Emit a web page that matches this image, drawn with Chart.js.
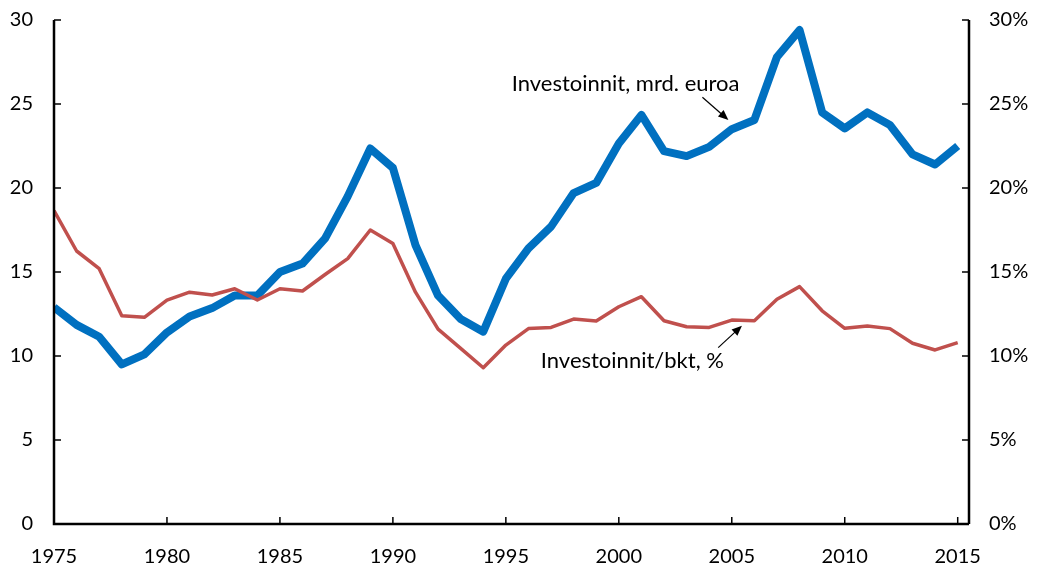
<!DOCTYPE html>
<html>
<head>
<meta charset="utf-8">
<script src="https://cdn.jsdelivr.net/npm/chart.js@4/dist/chart.umd.min.js"></script>
<style>
  html, body { margin: 0; padding: 0; background: #fff; }
  #wrap { width: 1037px; height: 566px; position: relative; }
</style>
</head>
<body>
<div id="wrap"><canvas id="chart"></canvas></div>
<script>
  // --- data ---
  const years = [1975, 1976, 1977, 1978, 1979, 1980, 1981, 1982, 1983, 1984,
                 1985, 1986, 1987, 1988, 1989, 1990, 1991, 1992, 1993, 1994,
                 1995, 1996, 1997, 1998, 1999, 2000, 2001, 2002, 2003, 2004,
                 2005, 2006, 2007, 2008, 2009, 2010, 2011, 2012, 2013, 2014, 2015];

  // Investoinnit, mrd. euroa (left axis)
  const investments = [12.9, 11.85, 11.15, 9.5, 10.1, 11.4, 12.35, 12.85, 13.6, 13.6,
                       15.0, 15.5, 17.0, 19.5, 22.35, 21.2, 16.6, 13.6, 12.2, 11.45,
                       14.6, 16.4, 17.7, 19.7, 20.3, 22.65, 24.35, 22.2, 21.9, 22.45,
                       23.5, 24.05, 27.8, 29.4, 24.5, 23.55, 24.5, 23.75, 22.0, 21.4, 22.5];

  // Investoinnit/bkt, % (right axis)
  const shareOfGdp = [18.65, 16.25, 15.2, 12.4, 12.3, 13.33, 13.8, 13.63, 14.0, 13.33,
                      14.0, 13.87, 14.85, 15.8, 17.5, 16.7, 13.8, 11.6, 10.45, 9.3,
                      10.65, 11.63, 11.7, 12.2, 12.08, 12.93, 13.53, 12.1, 11.74, 11.7,
                      12.14, 12.1, 13.38, 14.13, 12.69, 11.65, 11.79, 11.63, 10.76, 10.36, 10.8];

  const yTicks = [0, 5, 10, 15, 20, 25, 30];
  const xTicks = [1975, 1980, 1985, 1990, 1995, 2000, 2005, 2010, 2015];

  const blue = '#0070C0';
  const red = '#C0504D';
  const font = { family: 'Lato', size: 20 };

  // annotations in data coordinates
  const notes = [
    { text: 'Investoinnit, mrd. euroa', x: 2000.3, y: 26.2, from: [2003.7, 25.4], to: [2004.85, 24.05] },
    { text: 'Investoinnit/bkt, %', x: 2000.6, y: 9.7, from: [2004.4, 10.5], to: [2005.45, 11.8] }
  ];

  // axis lines, inward tick marks and the two labels with arrows
  const frame = {
    id: 'frame',
    afterDatasetsDraw(chart) {
      const { ctx, chartArea: a, scales } = chart;
      const x = scales.x, y = scales.y;
      ctx.save();
      ctx.strokeStyle = '#000';
      ctx.lineWidth = 2.5;
      ctx.beginPath();
      ctx.moveTo(a.left, a.top); ctx.lineTo(a.left, a.bottom); ctx.lineTo(a.right, a.bottom);
      ctx.moveTo(a.right, a.top); ctx.lineTo(a.right, a.bottom);
      ctx.stroke();
      ctx.lineWidth = 1.5;
      ctx.beginPath();
      yTicks.forEach(v => {
        const py = y.getPixelForValue(v);
        ctx.moveTo(a.left, py); ctx.lineTo(a.left + 7, py);
        ctx.moveTo(a.right, py); ctx.lineTo(a.right - 7, py);
      });
      xTicks.slice(1).forEach(v => {
        const px = x.getPixelForValue(v);
        ctx.moveTo(px, a.bottom); ctx.lineTo(px, a.bottom - 7);
      });
      ctx.stroke();

      ctx.fillStyle = '#000';
      ctx.font = '22px ' + font.family;
      ctx.textAlign = 'center';
      ctx.textBaseline = 'middle';
      notes.forEach(n => {
        ctx.fillText(n.text, x.getPixelForValue(n.x), y.getPixelForValue(n.y));
        const x1 = x.getPixelForValue(n.from[0]), y1 = y.getPixelForValue(n.from[1]);
        const x2 = x.getPixelForValue(n.to[0]), y2 = y.getPixelForValue(n.to[1]);
        const ang = Math.atan2(y2 - y1, x2 - x1);
        ctx.lineWidth = 1.2;
        ctx.beginPath();
        ctx.moveTo(x1, y1);
        ctx.lineTo(x2 - 8 * Math.cos(ang), y2 - 8 * Math.sin(ang));
        ctx.stroke();
        ctx.beginPath();
        ctx.moveTo(x2, y2);
        ctx.lineTo(x2 - 11 * Math.cos(ang - 0.4), y2 - 11 * Math.sin(ang - 0.4));
        ctx.lineTo(x2 - 11 * Math.cos(ang + 0.4), y2 - 11 * Math.sin(ang + 0.4));
        ctx.closePath();
        ctx.fill();
      });
      ctx.restore();
    }
  };

  // fixed axis box widths; drop the label overhang so the plot top sits at the layout padding
  function fixWidth(w) {
    return s => { s.width = w; s.paddingTop = 0; s.paddingBottom = 0; };
  }

  new Chart(document.getElementById('chart'), {
    type: 'line',
    data: {
      datasets: [
        {
          label: 'Investoinnit/bkt, %',
          data: years.map((yr, i) => ({ x: yr, y: shareOfGdp[i] })),
          yAxisID: 'y2',
          borderColor: red,
          borderWidth: 3.5,
          pointRadius: 0,
          tension: 0,
          borderJoinStyle: 'round',
          order: 0
        },
        {
          label: 'Investoinnit, mrd. euroa',
          data: years.map((yr, i) => ({ x: yr, y: investments[i] })),
          yAxisID: 'y',
          borderColor: blue,
          borderWidth: 8,
          pointRadius: 0,
          tension: 0,
          borderJoinStyle: 'round',
          order: 1
        }
      ]
    },
    options: {
      responsive: true,
      maintainAspectRatio: false,
      animation: false,
      events: [],
      layout: { padding: { top: 20, left: 0, right: 0, bottom: 0 } },
      plugins: { legend: { display: false }, tooltip: { enabled: false } },
      scales: {
        x: {
          type: 'linear',
          min: 1975,
          max: 2015.5,
          grid: { display: false },
          border: { display: false },
          afterBuildTicks: s => { s.ticks = xTicks.map(v => ({ value: v })); },
          afterFit: s => { s.height = 42; },
          ticks: { color: '#000', font, padding: 13, maxRotation: 0, callback: v => String(v) }
        },
        y: {
          position: 'left',
          min: 0,
          max: 30,
          grid: { display: false },
          border: { display: false },
          afterBuildTicks: s => { s.ticks = yTicks.map(v => ({ value: v })); },
          afterFit: fixWidth(54),
          ticks: { color: '#000', font, padding: 13 }
        },
        y2: {
          position: 'right',
          min: 0,
          max: 30,
          grid: { display: false },
          border: { display: false },
          afterBuildTicks: s => { s.ticks = yTicks.map(v => ({ value: v })); },
          afterFit: fixWidth(68),
          ticks: { color: '#000', font, padding: 12, callback: v => v + '%' }
        }
      }
    },
    plugins: [frame]
  });
</script>
</body>
</html>
